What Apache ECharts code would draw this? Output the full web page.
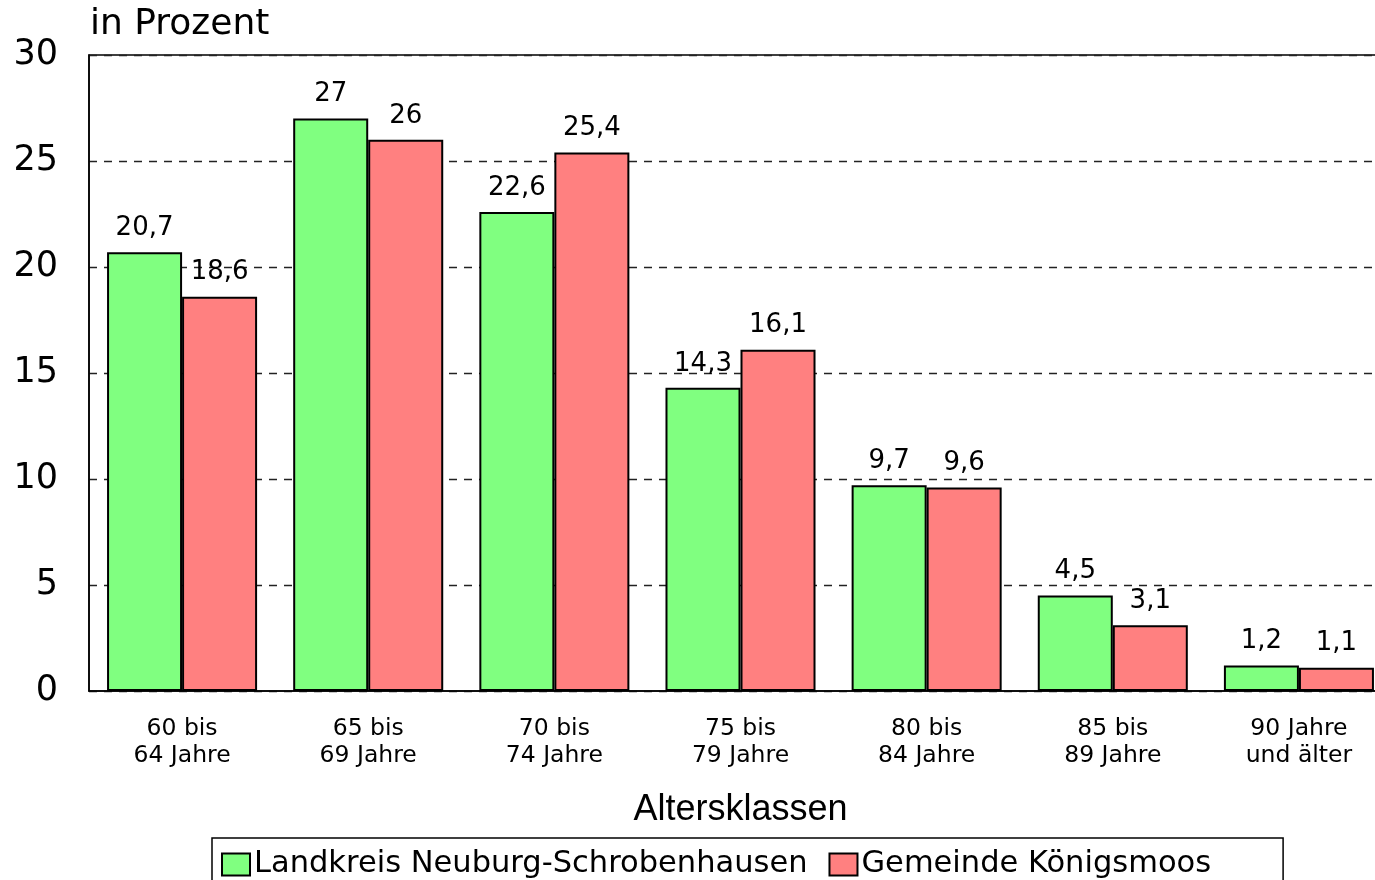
<!DOCTYPE html>
<html>
<head>
<meta charset="utf-8">
<script src="https://cdn.jsdelivr.net/npm/echarts@6/dist/echarts.min.js"></script>
<style>html,body{margin:0;padding:0;background:#fff}#c{width:1375px;height:880px}</style>
</head>
<body>
<div id="c"></div>
<script>
const categories = ['60 bis\n64 Jahre', '65 bis\n69 Jahre', '70 bis\n74 Jahre', '75 bis\n79 Jahre', '80 bis\n84 Jahre', '85 bis\n89 Jahre', '90 Jahre\nund älter'];
const landkreis = [20.7, 27, 22.6, 14.3, 9.7, 4.5, 1.2];
const gemeinde = [18.6, 26, 25.4, 16.1, 9.6, 3.1, 1.1];
const seriesNames = ['Landkreis Neuburg-Schrobenhausen', 'Gemeinde Königsmoos'];

const F = 'DejaVu Sans, Verdana, sans-serif';
const chart = echarts.init(document.getElementById('c'), null, {renderer: 'canvas'});
const lbl = {
  show: true, position: 'top', distance: 11, color: '#000', fontFamily: F, fontSize: 26,
  formatter: p => String(p.value).replace('.', ',')
};
chart.setOption({
  animation: false,
  backgroundColor: '#fff',
  title: {text: 'in Prozent', left: 90, top: 7, padding: 0,
    textStyle: {fontFamily: F, fontSize: 36, fontWeight: 'normal', color: '#000'}},
  grid: {left: 89, width: 1303, top: 55, height: 636, show: true, borderColor: '#000', borderWidth: 1.5,
    containLabel: false, outerBoundsMode: 'none'},
  legend: {
    left: 212, top: 838, padding: [11, 72, 12, 9],
    borderColor: '#000', borderWidth: 1.5, itemWidth: 28, itemHeight: 22, itemGap: 21,
    icon: 'rect',
    textStyle: {fontFamily: F, fontSize: 30.5, color: '#000', padding: [0, 0, 0, -1]},
    itemStyle: {borderColor: '#000', borderWidth: 2},
    data: seriesNames
  },
  xAxis: {
    type: 'category', data: categories,
    name: 'Altersklassen', nameLocation: 'middle', nameGap: 101,
    nameTextStyle: {fontFamily: 'Liberation Sans, Arial, sans-serif', fontSize: 36, color: '#000'},
    axisLine: {show: true, lineStyle: {color: '#000', width: 1.5}},
    axisTick: {show: false},
    axisLabel: {fontFamily: F, fontSize: 23.5, lineHeight: 27, color: '#000', margin: 24, interval: 0}
  },
  yAxis: {
    type: 'value', min: 0, max: 30, interval: 5,
    axisLine: {show: true, lineStyle: {color: '#000', width: 1.5}},
    axisTick: {show: false},
    axisLabel: {fontFamily: F, fontSize: 35, color: '#000', margin: 31},
    splitLine: {show: true, lineStyle: {color: '#222', width: 1.3, type: [8, 7]}}
  },
  series: [
    {name: seriesNames[0], type: 'bar', data: landkreis, barGap: 0, barCategoryGap: '19.4%',
     itemStyle: {color: '#80FF80', borderColor: '#000', borderWidth: 2}, label: lbl},
    {name: seriesNames[1], type: 'bar', data: gemeinde, barGap: 0, barCategoryGap: '19.4%',
     itemStyle: {color: '#FF8080', borderColor: '#000', borderWidth: 2}, label: lbl}
  ]
});
</script>
</body>
</html>
